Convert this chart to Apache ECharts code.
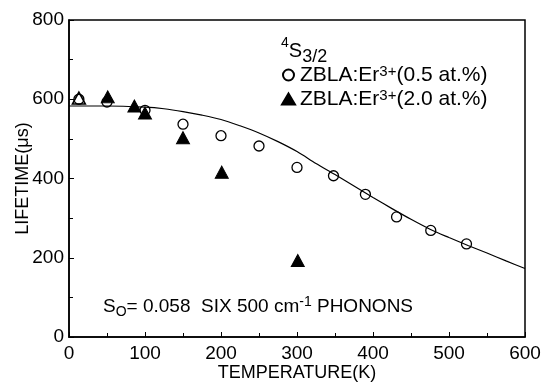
<!DOCTYPE html>
<html>
<head>
<meta charset="utf-8">
<script src="https://cdn.jsdelivr.net/npm/echarts@6/dist/echarts.min.js"></script>
<style>
html,body{margin:0;padding:0;background:#fff;}
#chart{width:542px;height:389px;}
</style>
</head>
<body>
<div id="chart"></div>
<script>
// ---- data ----
var xTicks = [0, 100, 200, 300, 400, 500, 600];
var yTicks = [0, 200, 400, 600, 800];
// ZBLA:Er3+ (0.5 at.%) — open circles [T (K), lifetime (us)]
var circ05 = [[13,600],[50,593],[100,572],[150,537],[200,508],[250,482],[300,428],[348,407],[390,360],[431,303],[476,269],[523,235]];
// ZBLA:Er3+ (2.0 at.%) — filled triangles
var tri20 = [[13,603],[51,606],[86,583],[100,565],[150,503],[201,416],[301,193]];
// fitted curve (S0 = 0.058, six 500 cm-1 phonons)
var fitT = [0, 50, 100, 125, 150, 175, 200, 225, 250, 275, 300, 325, 350, 375, 400, 425, 450, 475, 500, 525, 550, 575, 600];
var fitV = [583, 583, 580, 576, 569, 560, 549, 533, 515, 493, 468, 438, 410, 381, 352, 324, 297, 272, 251, 231, 212, 192, 173];

var FONT = 'Liberation Sans, Arial, Helvetica, sans-serif';
var chart = echarts.init(document.getElementById('chart'), null, {renderer: 'canvas'});

var fitData = fitT.map(function (t, i) { return [t, fitV[i]]; });
var triData = tri20.map(function (p, i) {
  if (i === 0) {
    return {value: p, itemStyle: {color: '#fff', borderColor: '#000', borderWidth: 1.5}};
  }
  return p;
});

var option = {
  animation: false,
  backgroundColor: '#fff',
  textStyle: {fontFamily: FONT},
  grid: {left: 69, right: 17, top: 20, bottom: 52, containLabel: false, outerBoundsMode: 'none',
         show: true, borderColor: '#000', borderWidth: 1.5, backgroundColor: 'transparent'},
  xAxis: {
    type: 'value', min: xTicks[0], max: xTicks[xTicks.length - 1], interval: 100,
    name: 'TEMPERATURE(K)', nameLocation: 'middle', nameGap: 27, nameMoveOverlap: false,
    nameTextStyle: {fontSize: 18, color: '#000', fontFamily: FONT},
    axisLine: {lineStyle: {color: '#000', width: 1.5}},
    axisTick: {inside: true, length: 5, lineStyle: {color: '#000', width: 1}},
    minorTick: {show: true, splitNumber: 2, length: 4, lineStyle: {color: '#000', width: 1}},
    axisLabel: {fontSize: 19, color: '#000', margin: 7, fontFamily: FONT},
    splitLine: {show: false}
  },
  yAxis: {
    type: 'value', min: yTicks[0], max: yTicks[yTicks.length - 1], interval: 200,
    name: 'LIFETIME(\u03bcs)', nameLocation: 'middle', nameGap: 37, nameMoveOverlap: false,
    nameTextStyle: {fontSize: 18, color: '#000', fontFamily: FONT},
    axisLine: {lineStyle: {color: '#000', width: 1.5}},
    axisTick: {inside: true, length: 5, lineStyle: {color: '#000', width: 1}},
    minorTick: {show: true, splitNumber: 2, length: 4, lineStyle: {color: '#000', width: 1}},
    axisLabel: {fontSize: 19, color: '#000', margin: 5, fontFamily: FONT},
    splitLine: {show: false}
  },
  legend: {
    orient: 'vertical', left: 276, top: 59, itemGap: 2,
    itemWidth: 13, itemHeight: 11,
    data: ['ZBLA:Er3+(0.5 at.%)', 'ZBLA:Er3+(2.0 at.%)'],
    formatter: function (name) {
      var m = name.match(/^(ZBLA:Er)(3\+)(.*)$/);
      return '{n|' + m[1] + '}{s|' + m[2] + '}{n|' + m[3] + '}';
    },
    textStyle: {
      color: '#000', fontFamily: FONT,
      rich: {
        n: {fontSize: 21, color: '#000', fontFamily: FONT, lineHeight: 22, verticalAlign: 'bottom'},
        s: {fontSize: 15, color: '#000', fontFamily: FONT, lineHeight: 22, verticalAlign: 'top', padding: [0, 0, 6, 0]}
      }
    }
  },
  graphic: [
    {
      type: 'text', left: 281, top: 36, z: 10,
      style: {
        text: '{a|4}{b|S}{c|3/2}',
        fontFamily: FONT,
        rich: {
          a: {fontSize: 14, fill: '#000', fontFamily: FONT, verticalAlign: 'top', lineHeight: 30},
          b: {fontSize: 20, fill: '#000', fontFamily: FONT, verticalAlign: 'middle', lineHeight: 30},
          c: {fontSize: 18, fill: '#000', fontFamily: FONT, verticalAlign: 'bottom', lineHeight: 30}
        }
      }
    },
    {
      type: 'text', left: 103, top: 295, z: 10,
      style: {
        text: '{n|S}{o|O}{n|= 0.058  SIX 500 cm}{p|-1}{n| PHONONS}',
        fontFamily: FONT,
        rich: {
          n: {fontSize: 19, fill: '#000', fontFamily: FONT, lineHeight: 24, verticalAlign: 'middle'},
          o: {fontSize: 14, fill: '#000', fontFamily: FONT, lineHeight: 24, verticalAlign: 'bottom'},
          p: {fontSize: 14, fill: '#000', fontFamily: FONT, lineHeight: 24, verticalAlign: 'top'}
        }
      }
    }
  ],
  series: [
    {
      name: 'fit', type: 'line', data: fitData, smooth: 0.3, showSymbol: false,
      lineStyle: {color: '#000', width: 1.2}, z: 1, silent: true
    },
    {
      name: 'ZBLA:Er3+(2.0 at.%)', type: 'scatter', data: triData,
      symbol: 'triangle', symbolSize: [13, 12],
      itemStyle: {color: '#000', borderColor: '#000', borderWidth: 1, opacity: 1}, z: 3
    },
    {
      name: 'ZBLA:Er3+(0.5 at.%)', type: 'scatter', data: circ05,
      symbol: 'circle', symbolSize: 10,
      itemStyle: {color: 'rgba(255,255,255,0)', borderColor: '#000', borderWidth: 1.3, opacity: 1}, z: 4
    }
  ]
};
chart.setOption(option);
</script>
</body>
</html>
